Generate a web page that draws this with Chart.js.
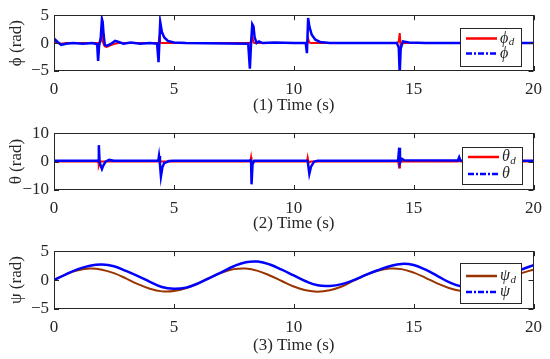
<!DOCTYPE html>
<html><head><meta charset="utf-8">
<script src="https://cdn.jsdelivr.net/npm/chart.js@4.4.0/dist/chart.umd.min.js"></script>
<style>
body{margin:0;background:#fff;width:550px;height:359px;overflow:hidden;position:relative}
canvas{position:absolute;left:0}
</style>
</head><body>
<canvas id="c1" width="550" height="118" style="top:0px"></canvas>
<canvas id="c2" width="550" height="118" style="top:118px"></canvas>
<canvas id="c3" width="550" height="123" style="top:236px"></canvas>
<script>
// ---------- data ----------
const xTicks = [0, 5, 10, 15, 20];
const yTicks1 = [-5, 0, 5];
const yTicks2 = [-10, 0, 10];
const yTicks3 = [-5, 0, 5];

// (1) roll
const t1    = [0, 0.05, 0.15, 0.3, 0.5, 0.8, 1.2, 1.6, 1.8, 1.84, 1.88, 1.95, 2.0, 2.03, 2.07, 2.12, 2.2, 2.35, 2.55, 2.7, 2.9, 3.2, 3.6, 4.0, 4.3, 4.36, 4.4, 4.43, 4.5, 4.6, 4.75, 5.0, 5.5, 8.1, 8.17, 8.22, 8.27, 8.32, 8.37, 8.45, 8.55, 8.7, 9.2, 10.0, 10.5, 10.55, 10.6, 10.65, 10.75, 10.9, 11.1, 11.5, 14.3, 14.38, 14.42, 14.46, 14.55, 14.8, 15.5, 17.0, 17.2, 17.5, 20];
const phiD  = [0, 0, 0, -0.1, 0, 0, 0, 0, 0, 0, 0, 0.3, 1.5, 0.4, -0.2, -0.6, -0.7, -0.4, -0.1, 0, 0, 0, 0, 0, 0, 0, 1.2, 0.1, 0, 0, 0, 0, 0, 0, 0, 0.4, 1.2, 0.1, 0, 0, 0, 0, 0, 0, 0, 0, 0.8, 0.1, 0, 0, 0, 0, 0, 0.3, 1.8, -0.6, 0, 0, 0, 0, 0, 0, 0];
const phi   = [0.3, 0.6, 0.2, -0.3, -0.1, 0, -0.1, 0, -0.2, -3.2, -0.5, 1.0, 4.3, 3.8, 1.5, -0.3, -0.5, -0.2, 0.4, 0.2, -0.1, 0.1, -0.1, 0, -0.1, -3.4, 0.5, 3.8, 2.0, 1.0, 0.4, 0.1, 0, -0.1, -4.6, 0, 3.4, 3.0, 1.0, 0, 0.3, 0, 0.1, 0, 0, -1.8, 4.5, 3.0, 1.5, 0.6, 0.2, 0, 0, -0.8, -5.5, -1.0, 0.3, 0.1, 0, 0, -0.2, 0, 0];

// (2) pitch
const t2     = [0, 1.8, 1.86, 1.87, 1.9, 1.95, 2.0, 2.05, 2.15, 2.3, 2.5, 4.35, 4.38, 4.42, 4.46, 4.52, 4.6, 4.8, 5.0, 8.15, 8.2, 8.22, 8.24, 8.28, 8.35, 10.55, 10.58, 10.6, 10.65, 10.72, 10.85, 11.0, 14.35, 14.4, 14.43, 14.5, 14.6, 16.85, 16.9, 16.95, 20];
const thetaD = [0, 0, -0.5, -1.5, -0.8, 0, 0, 0, 0, 0, 0, 0, 0.6, 0, 0, 0, 0, 0, 0, 0, 0.5, 1.5, 0.2, 0, 0, 0, 1.4, 0.5, -0.3, 0, 0, 0, 0, -2.1, -0.3, 0, 0, 0, 0.3, 0, 0];
const theta  = [0.3, 0.3, 0.5, 5.8, 0, -1.5, -2.6, -1.5, 0, 0.6, 0.3, 0.3, 2.0, -1.0, -5.2, -2.0, -0.5, 0.2, 0.3, 0.3, 0.5, 0.2, -8.0, -1.0, 0.3, 0.3, 0.2, -1.0, -4.3, -1.8, 0, 0.3, 0.3, 4.9, -0.5, 1.0, 0.5, 0.4, 1.5, 0.4, 0.3];

// (3) yaw
const t3   = [0, 0.5, 1, 1.5, 2, 2.5, 3, 3.5, 4, 4.5, 5, 5.5, 6, 6.5, 7, 7.5, 8, 8.5, 9, 9.5, 10, 10.5, 11, 11.5, 12, 12.5, 13, 13.5, 14, 14.5, 15, 15.5, 16, 16.5, 17, 17.5, 18, 18.5, 19, 19.5, 20];
const psiD = [0, 1.0, 1.7, 2.0, 1.8, 1.2, 0.3, -0.7, -1.5, -1.95, -1.9, -1.4, -0.55, 0.4, 1.3, 1.9, 2.0, 1.6, 0.8, -0.15, -1.1, -1.75, -2.0, -1.75, -1.1, -0.1, 0.85, 1.6, 2.0, 1.9, 1.3, 0.4, -0.6, -1.4, -1.9, -2.0, -1.5, -0.7, 0.3, 1.2, 1.8];
const psi  = [0, 1.0, 1.9, 2.5, 2.7, 2.4, 1.6, 0.7, -0.3, -1.2, -1.5, -1.3, -0.6, 0.4, 1.4, 2.4, 3.1, 3.2, 2.7, 1.8, 0.8, -0.2, -0.9, -1.0, -0.7, 0.0, 0.9, 1.7, 2.4, 2.8, 2.6, 1.8, 0.7, -0.4, -1.1, -1.2, -0.8, 0.0, 0.9, 1.8, 2.6];

// ---------- helpers ----------
const FONT = "'Liberation Serif', 'Times New Roman', serif";
const INK = '#262626';
const RED = 'rgb(255,0,0)';
const BLUE = 'rgb(0,0,255)';
const BROWN = 'rgb(153,51,0)';
const pts = (t, v) => t.map((x, i) => ({x: x, y: v[i]}));
const fmt = v => String(v).replace('-', '\u2212');

function framePlugin(yTicks, legend) {
  return {
    id: 'frame',
    afterDraw(chart) {
      const ctx = chart.ctx, a = chart.chartArea;
      const xs = chart.scales.x, ys = chart.scales.y;
      ctx.save();
      ctx.strokeStyle = INK; ctx.lineWidth = 1;
      ctx.strokeRect(Math.round(a.left) + 0.5, Math.round(a.top) + 0.5, Math.round(a.right - a.left) - 1, Math.round(a.bottom - a.top) - 1);
      ctx.beginPath();
      xTicks.forEach(v => {
        const p = Math.round(xs.getPixelForValue(v)) + 0.5;
        ctx.moveTo(p, a.top); ctx.lineTo(p, a.top + 5);
        ctx.moveTo(p, a.bottom); ctx.lineTo(p, a.bottom - 5);
      });
      yTicks.forEach(v => {
        const p = Math.round(ys.getPixelForValue(v)) + 0.5;
        ctx.moveTo(a.left, p); ctx.lineTo(a.left + 5, p);
        ctx.moveTo(a.right, p); ctx.lineTo(a.right - 5, p);
      });
      ctx.stroke();
      // legend
      const L = legend;
      ctx.fillStyle = '#fff';
      ctx.fillRect(L.x, L.y, L.w, L.h);
      ctx.strokeStyle = INK;
      ctx.strokeRect(L.x + 0.5, L.y + 0.5, L.w, L.h);
      L.items.forEach((it, i) => {
        const yy = L.y + L.rows[i];
        ctx.strokeStyle = it.color; ctx.lineWidth = 2.5;
        ctx.setLineDash(it.dash || []);
        ctx.beginPath(); ctx.moveTo(L.x + 6, yy); ctx.lineTo(L.x + 37, yy); ctx.stroke();
        ctx.setLineDash([]);
        ctx.fillStyle = INK; ctx.textBaseline = 'middle'; ctx.textAlign = 'left';
        ctx.font = 'italic 16px ' + FONT;
        ctx.fillText(it.sym, L.x + 40, yy);
        if (it.sub) {
          const w = ctx.measureText(it.sym).width;
          ctx.font = 'italic 11px ' + FONT;
          ctx.fillText(it.sub, L.x + 40 + w + 0.5, yy + 4);
        }
      });
      ctx.restore();
    }
  };
}

function makeChart(id, datasets, yMin, yMax, yTicks, yTitle, xTitle, padTop, xAxisH, titlePadB, tension, legend) {
  new Chart(document.getElementById(id), {
    type: 'line',
    data: {datasets: datasets.map(d => ({
      label: d.label, data: d.data, borderColor: d.color, borderWidth: d.width, order: d.order,
      pointRadius: 0, tension: tension, fill: false
    }))},
    options: {
      responsive: false, animation: false, events: [],
      layout: {padding: {top: padTop, right: 14, left: 0, bottom: 0}},
      plugins: {legend: {display: false}, tooltip: {enabled: false}},
      scales: {
        x: {
          type: 'linear', position: 'bottom', min: 0, max: 20,
          afterBuildTicks: s => { s.ticks = xTicks.map(v => ({value: v})); },
          afterFit: s => { s.height = xAxisH; },
          grid: {display: false, drawTicks: false}, border: {display: false},
          ticks: {font: {family: FONT, size: 17}, color: INK, padding: 8, maxRotation: 0, callback: fmt},
          title: {display: true, text: xTitle, font: {family: FONT, size: 17}, color: INK, padding: {top: 0, bottom: titlePadB}}
        },
        y: {
          type: 'linear', position: 'left', min: yMin, max: yMax,
          afterBuildTicks: s => { s.ticks = yTicks.map(v => ({value: v})); },
          afterFit: s => { s.width = 54; },
          grid: {display: false, drawTicks: false}, border: {display: false},
          ticks: {font: {family: FONT, size: 17}, color: INK, padding: 5, callback: fmt},
          title: {display: true, text: yTitle, font: {family: FONT, size: 17}, color: INK, padding: {top: 6, bottom: 0}}
        }
      }
    },
    plugins: [framePlugin(yTicks, legend)]
  });
}

makeChart('c1', [
  {label: 'phi_d', data: pts(t1, phiD), color: RED, width: 2, order: 2},
  {label: 'phi', data: pts(t1, phi), color: BLUE, width: 2.5, order: 1}
], -5, 5, yTicks1, '\u03D5 (rad)', '(1) Time (s)', 13, 47, 2, 0,
  {x: 460, y: 28, w: 61, h: 38, rows: [10.5, 25.5], items: [
    {sym: '\u03D5', sub: 'd', color: RED},
    {sym: '\u03D5', color: BLUE, dash: [6, 2, 2, 2]}]});

makeChart('c2', [
  {label: 'theta_d', data: pts(t2, thetaD), color: RED, width: 2, order: 2},
  {label: 'theta', data: pts(t2, theta), color: BLUE, width: 2.5, order: 1}
], -10, 10, yTicks2, '\u03B8 (rad)', '(2) Time (s)', 13, 46, 2, 0,
  {x: 462, y: 29, w: 60, h: 37, rows: [10, 27], items: [
    {sym: '\u03B8', sub: 'd', color: RED},
    {sym: '\u03B8', color: BLUE, dash: [6, 2, 2, 2]}]});

makeChart('c3', [
  {label: 'psi_d', data: pts(t3, psiD), color: BROWN, width: 2, order: 2},
  {label: 'psi', data: pts(t3, psi), color: BLUE, width: 2.5, order: 1}
], -5, 5, yTicks3, '\u03C8 (rad)', '(3) Time (s)', 15, 50, 3, 0.4,
  {x: 460, y: 27, w: 61, h: 40, rows: [13, 29], items: [
    {sym: '\u03C8', sub: 'd', color: BROWN},
    {sym: '\u03C8', color: BLUE, dash: [6, 2, 2, 2]}]});
</script>
</body></html>
